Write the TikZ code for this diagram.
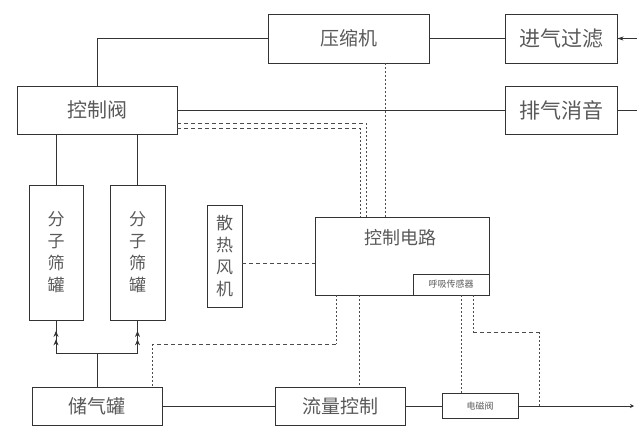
\documentclass[tikz,border=0pt]{standalone}
\usepackage{fontspec}
\setmainfont{Noto Sans CJK SC}
\usetikzlibrary{arrows.meta,decorations.markings}
\begin{document}
\begin{tikzpicture}[x=1pt,y=-1pt,
  box/.style={draw=black!80, line width=0.9pt, inner sep=0pt, text=black!65,
    font=\fontsize{19}{19}\selectfont, rectangle},
  vbox/.style={box, align=center, font=\fontsize{17}{22}\selectfont},
  pipe/.style={draw=black!80, line width=0.9pt},
  sigh/.style={draw=black!70, line width=0.7pt, dash pattern=on 4pt off 3pt},
  sigv/.style={draw=black!70, line width=0.9pt, dash pattern=on 1.5pt off 2.5pt},
  chk/.style={postaction={decorate}, decoration={markings,
    mark=at position 0.42 with {\arrow{Stealth[length=6pt,width=5pt]}},
    mark=at position 0.68 with {\arrow{Stealth[length=6pt,width=5pt]}}}}
]
\useasboundingbox (0,0) rectangle (637,426);
% boxes
\node[box, minimum width=161pt, minimum height=49pt] (comp) at (348.5,38.5) {压缩机};
\node[box, minimum width=112pt, minimum height=49pt, font=\fontsize{21}{21}\selectfont] (filt) at (561,38.5) {进气过滤};
\node[box, minimum width=112pt, minimum height=48pt, font=\fontsize{21}{21}\selectfont] (muff) at (561,110) {排气消音};
\node[box, minimum width=160pt, minimum height=48pt, font=\fontsize{20}{20}\selectfont] (valve) at (97,110) {控制阀};
\node[vbox, minimum width=54pt, minimum height=135pt] (s1) at (56,252.5) {分\\子\\筛\\罐};
\node[vbox, minimum width=55pt, minimum height=135pt] (s2) at (137.5,252.5) {分\\子\\筛\\罐};
\node[vbox, minimum width=35pt, minimum height=102pt] (fan) at (224.5,256) {散\\热\\风\\机};
\node[box, minimum width=174pt, minimum height=78pt] (ctrl) at (402,256) {};
\node[text=black!65, font=\fontsize{18}{18}\selectfont] (ctrlt) at (400,238) {控制电路};
\node[box, minimum width=76pt, minimum height=21pt, font=\fontsize{9}{9}\selectfont] (sens) at (451,284.5) {呼吸传感器};
\node[box, minimum width=130pt, minimum height=38pt] (tank) at (97,406) {储气罐};
\node[box, minimum width=130pt, minimum height=38pt] (flow) at (340,406) {流量控制};
\node[box, minimum width=76pt, minimum height=25pt, font=\fontsize{9}{9}\selectfont] (sol) at (480,406) {电磁阀};
% free ends
\coordinate (inR) at (637,38.5);
\coordinate (exR) at (637,110);
\coordinate (outR) at (634,406);
% gas pipes
\draw[pipe] (valve.north) |- (comp.west);
\draw[pipe] (comp.east) -- (filt.west);
\draw[pipe, -{Stealth[length=6pt,width=4pt]}] (inR) -- (filt.east);
\draw[pipe] (valve.east) -- (muff.west);
\draw[pipe] (muff.east) -- (exR);
\draw[pipe] (valve.south -| s1.north) -- (s1.north);
\draw[pipe] (valve.south -| s2.north) -- (s2.north);
\coordinate (m1) at (56,353);
\coordinate (m2) at (137.5,353);
\coordinate (m0) at (97,353);
\draw[pipe, chk] (m1) -- (s1.south);
\draw[pipe, chk] (m2) -- (s2.south);
\draw[pipe] (m1) -- (m2);
\draw[pipe] (m0) -- (tank.north);
\draw[pipe] (tank.east) -- (flow.west);
\draw[pipe] (flow.east) -- (sol.west);
\draw[pipe, -{Stealth[length=4pt,width=4pt]}] (sol.east) -- (outR);
% signal lines from control valve
\coordinate (k1) at (366,123);
\coordinate (k2) at (360,128);
\draw[sigh] (valve.east |- k1) -- (k1);
\draw[sigv] (k1) -- (k1 |- ctrl.north);
\draw[sigh] (valve.east |- k2) -- (k2);
\draw[sigv] (k2) -- (k2 |- ctrl.north);
% compressor
\coordinate (c3) at (385,63);
\draw[sigv] (comp.south -| c3) -- (ctrl.north -| c3);
% fan
\coordinate (f1) at (242,263);
\draw[sigh] (f1) -- (f1 -| ctrl.west);
% to tank
\coordinate (a1) at (336,344);
\coordinate (a1b) at (152,344);
\draw[sigv] (ctrl.south -| a1) -- (a1);
\draw[sigh] (a1) -- (a1b);
\draw[sigv] (a1b) -- (a1b |- tank.north);
% to flow control
\coordinate (a2) at (359,300);
\draw[sigv] (ctrl.south -| a2) -- (flow.north -| a2);
% to solenoid valve
\coordinate (a3) at (461,300);
\draw[sigv] (sens.south -| a3) -- (sol.north -| a3);
% to outlet line
\coordinate (a4) at (473,332);
\coordinate (a4b) at (539,332);
\draw[sigv] (sens.south -| a4) -- (a4);
\draw[sigh] (a4) -- (a4b);
\draw[sigv] (a4b) -- (a4b |- sol.east);
\end{tikzpicture}
\end{document}
